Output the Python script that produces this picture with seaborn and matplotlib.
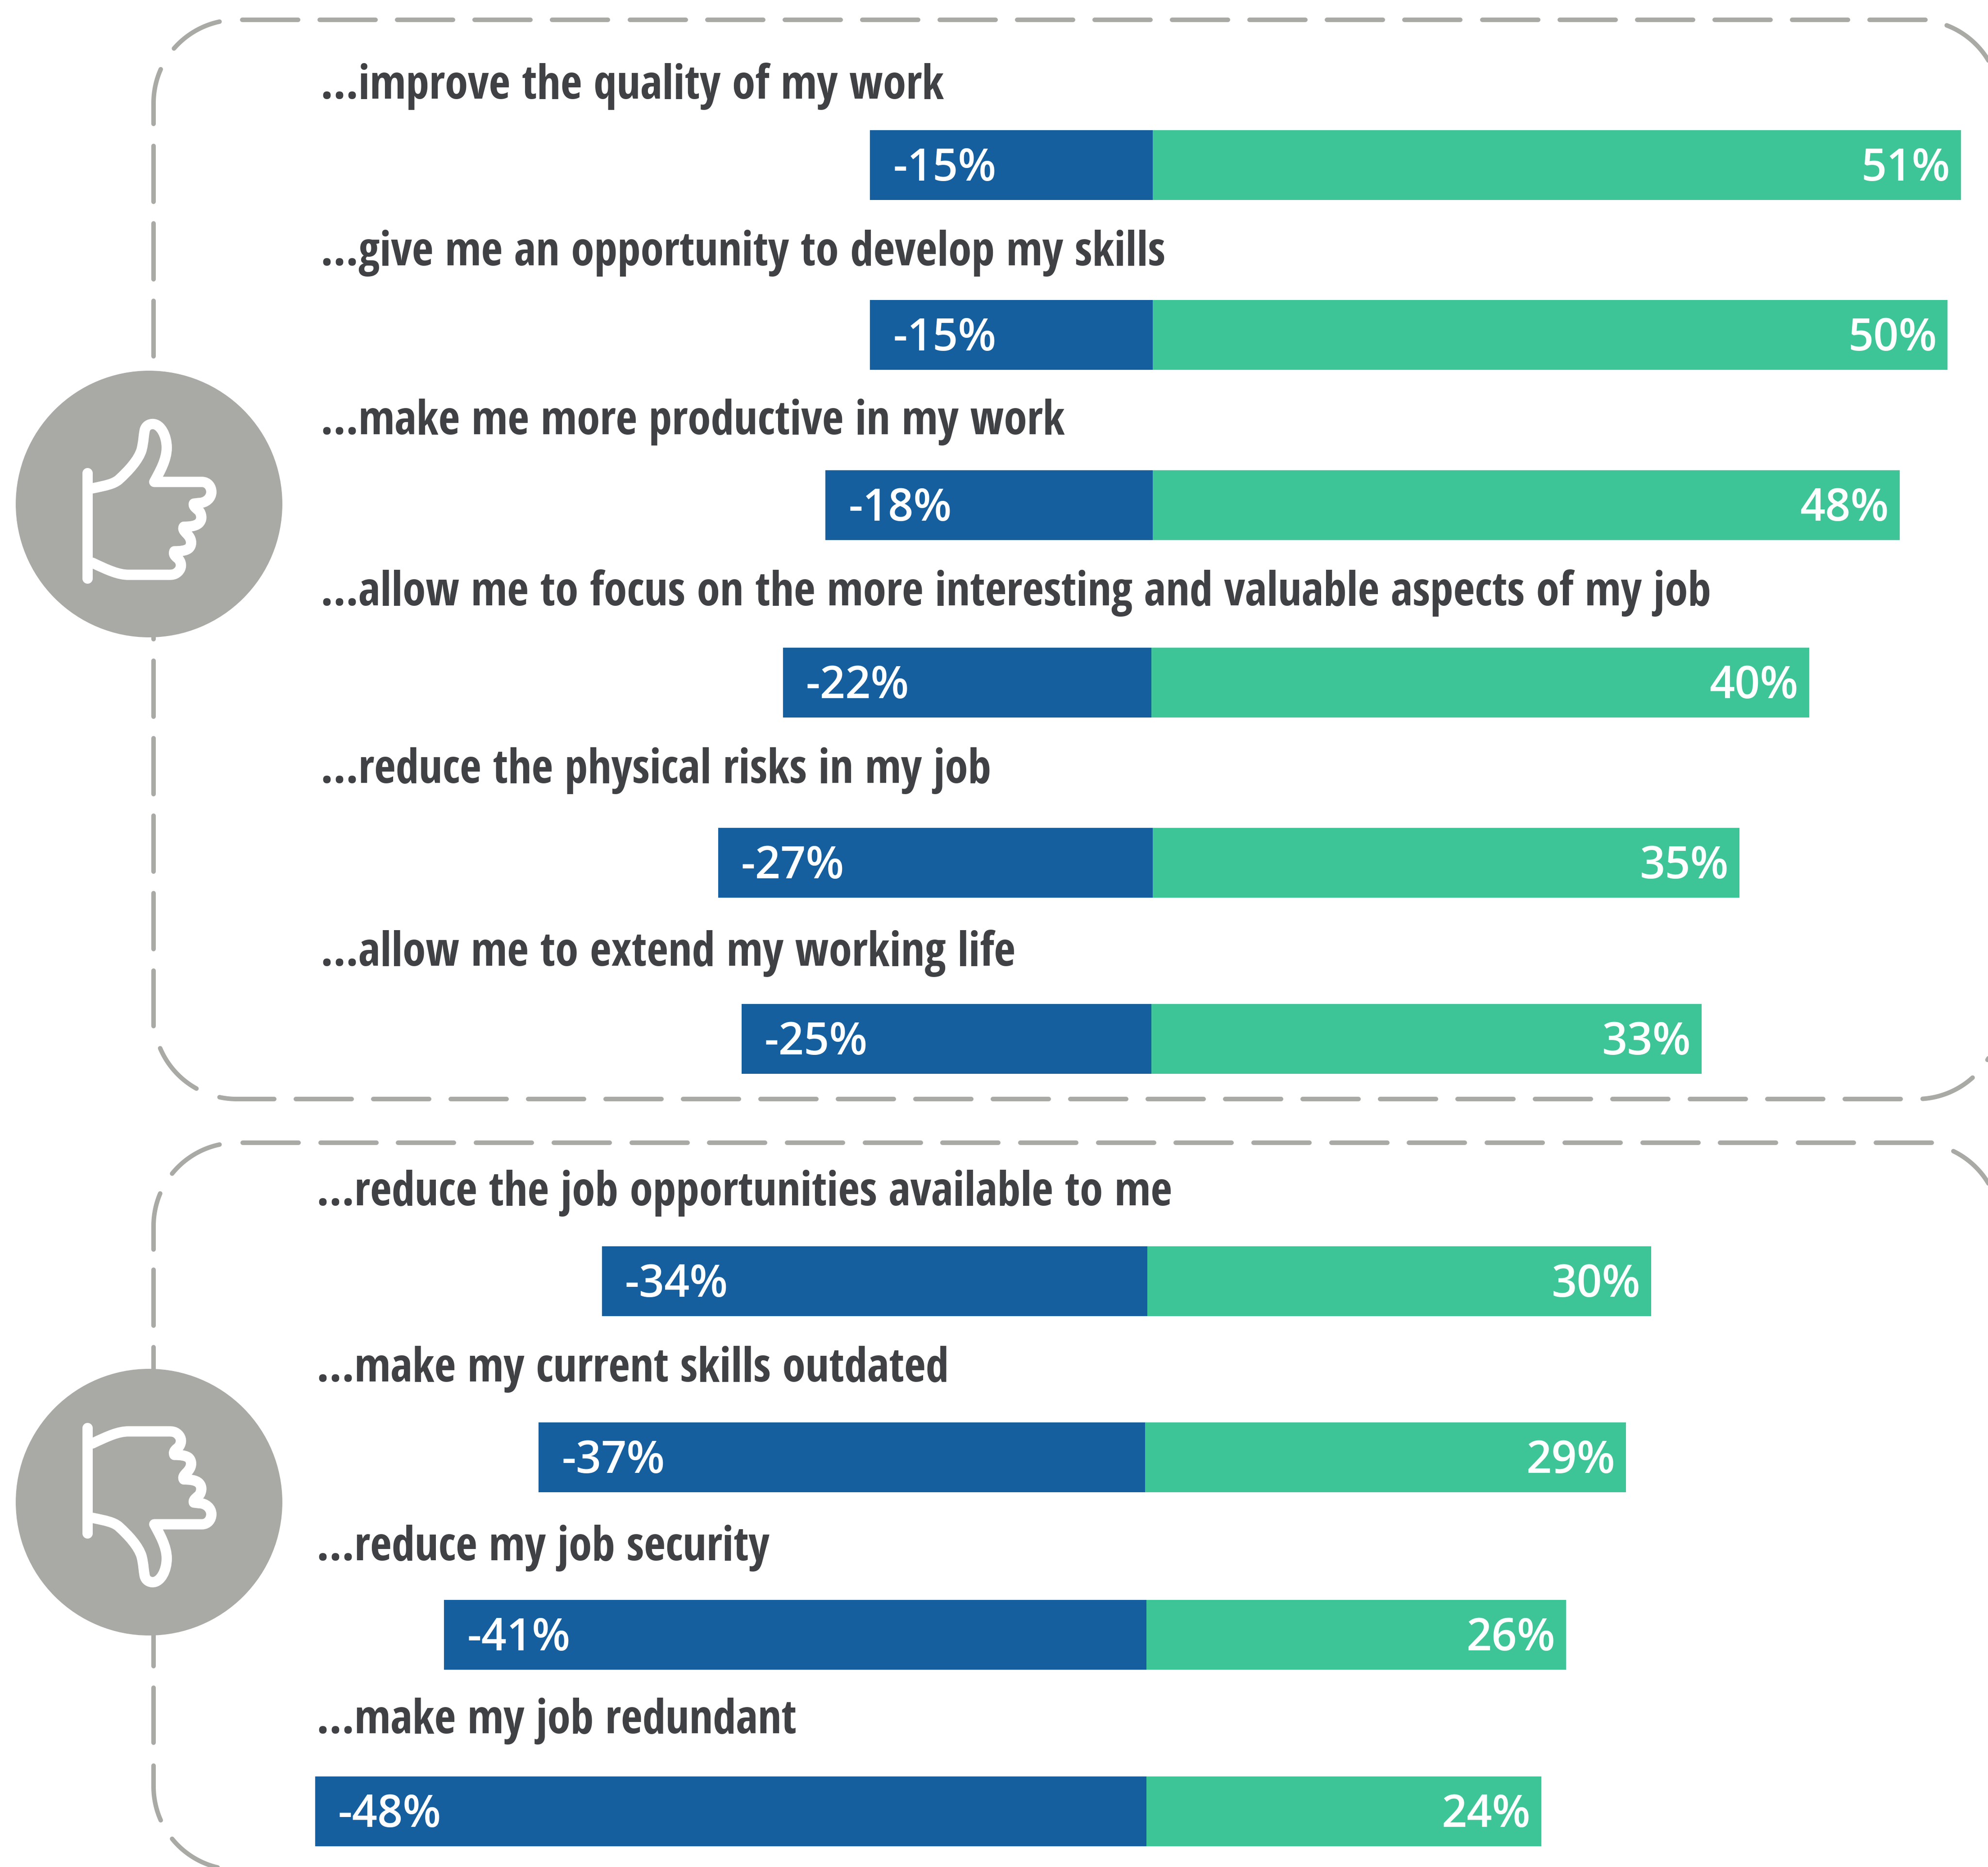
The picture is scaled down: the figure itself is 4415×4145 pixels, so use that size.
import numpy as np
import pandas as pd
import matplotlib
matplotlib.use('Agg')
import matplotlib.pyplot as plt
from matplotlib.path import Path
from matplotlib.patches import PathPatch, Circle
import seaborn as sns

# Statements, top panel then bottom panel
items = [
    '...improve the quality of my work',
    '...give me an opportunity to develop my skills',
    '...make me more productive in my work',
    '...allow me to focus on the more interesting and valuable aspects of my job',
    '...reduce the physical risks in my job',
    '...allow me to extend my working life',
    '...reduce the job opportunities available to me',
    '...make my current skills outdated',
    '...reduce my job security',
    '...make my job redundant',
]
# Printed labels
neg_labels = [-15, -15, -18, -22, -27, -25, -34, -37, -41, -48]
pos_labels = [51, 50, 48, 40, 35, 33, 30, 29, 26, 24]
# The bars in the source are not to scale with their labels,
# so the lengths are read off the picture separately
neg_lengths = [-17.1, -17.1, -19.8, -22.3, -26.3, -24.8, -33.0, -36.7, -42.5, -50.3]
pos_lengths = [48.9, 48.1, 45.2, 39.8, 35.5, 33.3, 30.5, 29.1, 25.4, 23.9]

W, H = 4415, 4145
BLUE = '#155F9F'
GREEN = '#3EC597'
GREY = '#A9AAA5'
TEXT = '#404144'
PX = 0.72  # px to pt at dpi 100

# Layout of the rows in pixels
row_centers = [366, 743, 1121, 1515, 1915, 2306, 2844, 3235, 3629, 4021]
row_zero = [2560, 2560, 2560, 2557, 2560, 2557, 2548, 2543, 2546, 2546]
title_base = [219, 589, 964, 1344, 1738, 2144, 2676, 3067, 3464, 3848]
title_x = [712] * 6 + [703] * 4
bar_h = 155
scale = 36.7  # px per unit of length

df = pd.DataFrame({
    'item': items * 2,
    'side': ['neg'] * len(items) + ['pos'] * len(items),
    'length': neg_lengths + pos_lengths,
})

sns.set_style('white')
title_font = ['Open Sans Condensed', 'Liberation Sans Narrow', 'Open Sans']
value_font = ['Open Sans', 'DejaVu Sans']

fig = plt.figure(figsize=(W / 100, H / 100), dpi=100, facecolor='white')

# Background axes in pixels: frames, icons, titles
bg = fig.add_axes([0, 0, 1, 1])
bg.set_xlim(0, W)
bg.set_ylim(H, 0)
bg.axis('off')

line_kw = dict(color=GREY, lw=10 * PX, solid_capstyle='round', zorder=1)


def dashes(x0, y0, x1, y1, on=124, off=48):
    # run of separate dashes from (x0, y0) towards (x1, y1)
    length = np.hypot(x1 - x0, y1 - y0)
    ux, uy = (x1 - x0) / length, (y1 - y0) / length
    s = 0
    while s < length:
        e = min(s + on, length)
        bg.plot([x0 + ux * s, x0 + ux * e], [y0 + uy * s, y0 + uy * e], **line_kw)
        s += on + off


def arc(cx, cy, a0, a1, r=185):
    t = np.radians(np.linspace(a0, a1, 40))
    bg.plot(cx + r * np.cos(t), cy + r * np.sin(t), **line_kw)


# top frame
dashes(538, 44, 4280, 44, off=48.1)
dashes(657, 2440, 4225, 2440)
bg.plot([341, 341], [229, 275], **line_kw)
arc(526, 229, 180, 204)
arc(526, 229, 221, 258)
arc(4257, 229, 291, 330)
dashes(341, 324, 341, 791)
dashes(341, 1295, 341, 2278)
arc(526, 2255, 157, 119)
arc(526, 2255, 102, 90)
bg.plot([526, 609], [2440, 2440], **line_kw)
arc(4257, 2255, 86, 48)
arc(4257, 2255, 32, 15)

# bottom frame
dashes(539, 2537, 4290, 2537, off=48.7)
arc(526, 2722, 219, 258)
arc(526, 2722, 180, 203)
bg.plot([341, 341], [2722, 2774], **line_kw)
dashes(341, 2819, 341, 3113)
dashes(341, 3575, 341, 3869)
bg.plot([341, 341], [3920, 3966], **line_kw)
arc(526, 3966, 180, 156)
arc(526, 3966, 141, 103)
arc(4257, 2722, 296, 330)

# hand outline, offsets from the circle centre
M, L, C = Path.MOVETO, Path.LINETO, Path.CURVE4
hand = [
    (M, [(460, 682)]),
    (C, [(530, 668), (565, 660), (590, 640)]),
    (C, [(640, 595), (690, 540), (705, 490)]),
    (C, [(715, 450), (715, 420), (720, 395)]),
    (C, [(725, 370), (745, 362), (760, 362)]),
    (C, [(800, 362), (830, 420), (830, 480)]),
    (C, [(830, 540), (795, 600), (768, 650)]),
    (L, [(1005, 650)]),
    (C, [(1035, 650), (1052, 675), (1052, 700)]),
    (C, [(1052, 730), (1025, 755), (990, 755)]),
    (L, [(965, 758)]),
    (C, [(960, 775), (985, 785), (995, 800)]),
    (C, [(1005, 820), (1005, 840), (990, 855)]),
    (C, [(975, 870), (945, 873), (915, 873)]),
    (C, [(905, 890), (930, 905), (940, 920)]),
    (C, [(955, 940), (955, 965), (940, 980)]),
    (C, [(925, 993), (895, 995), (868, 995)]),
    (C, [(860, 1015), (880, 1025), (890, 1035)]),
    (C, [(905, 1055), (905, 1080), (885, 1098)]),
    (C, [(870, 1112), (855, 1112), (840, 1112)]),
    (L, [(640, 1112)]),
    (C, [(590, 1112), (540, 1090), (460, 1052)]),
]
zoom = 2.24
icon_cx, icon_cy = 742, 760


def draw_icon(cy, flip):
    bg.add_patch(Circle((331, cy), 296, fc=GREY, ec='none', zorder=2))
    verts, codes = [], []
    for code, pts in hand:
        for p in pts:
            dy = (p[1] - icon_cy) / zoom
            verts.append((331 + (p[0] - icon_cx) / zoom, cy + (-dy if flip else dy)))
            codes.append(code)
    bg.add_patch(PathPatch(Path(verts, codes), fc='none', ec='white', lw=23 * PX,
                           capstyle='round', joinstyle='round', zorder=3))
    x = 331 + (435 - icon_cx) / zoom
    ends = [(605 - icon_cy) / zoom, (1130 - icon_cy) / zoom]
    ys = [cy - e for e in ends] if flip else [cy + e for e in ends]
    bg.plot([x, x], ys, color='white', lw=23 * PX, solid_capstyle='round', zorder=3)


draw_icon(1119, False)
draw_icon(3335, True)

for item, x, y in zip(items, title_x, title_base):
    bg.text(x, y, item, family=title_font, weight='bold', fontsize=74.6,
            color=TEXT, va='baseline', ha='left')

# One axes per row so each bar sits where it does in the picture
for i, item in enumerate(items):
    top = row_centers[i] - bar_h / 2
    ax = fig.add_axes([0, 1 - (top + bar_h) / H, 1, bar_h / H])
    sns.barplot(data=df[df['item'] == item], x='length', y='item', hue='side',
                hue_order=['neg', 'pos'], palette={'neg': BLUE, 'pos': GREEN},
                dodge=False, width=1, saturation=1, linewidth=0, legend=False, ax=ax)
    ax.set_xlim(-row_zero[i] / scale, (W - row_zero[i]) / scale)
    ax.set_ylim(0.5, -0.5)
    ax.axis('off')
    ax.patch.set_alpha(0)
    ax.annotate(f'{neg_labels[i]}%', xy=(neg_lengths[i], 0), xytext=(51 * PX, 3 * PX),
                textcoords='offset points', ha='left', va='center_baseline',
                color='white', fontsize=71, family=value_font, weight=600)
    ax.annotate(f'{pos_labels[i]}%', xy=(pos_lengths[i], 0), xytext=(-24 * PX, 3 * PX),
                textcoords='offset points', ha='right', va='center_baseline',
                color='white', fontsize=71, family=value_font, weight=600)

fig.savefig('out.png', dpi=100)
